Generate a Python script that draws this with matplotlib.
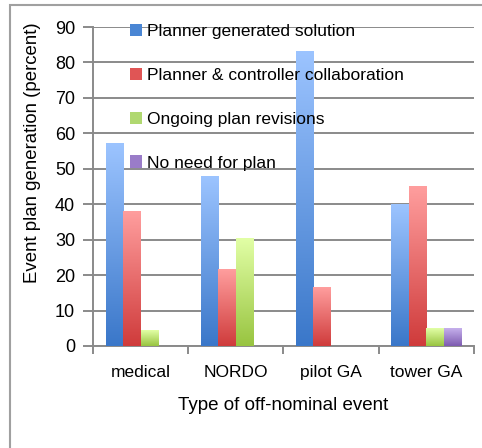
import matplotlib
matplotlib.use("Agg")
import matplotlib.pyplot as plt
import numpy as np
from matplotlib.patches import Patch, Rectangle
from matplotlib.colors import LinearSegmentedColormap

plt.rcParams['font.family'] = ['Liberation Sans', 'DejaVu Sans']

categories = ["medical", "NORDO", "pilot GA", "tower GA"]
series_names = ["Planner generated solution", "Planner & controller collaboration",
                "Ongoing plan revisions", "No need for plan"]
planner = [57, 47.7, 83, 40]
collab = [38, 21.6, 16.5, 45]
ongoing = [4.5, 30.2, 0, 4.8]
noneed = [0, 0, 0, 4.8]
values = [planner, collab, ongoing, noneed]
yticks = [0, 10, 20, 30, 40, 50, 60, 70, 80, 90]

# (bottom colour, top colour)
grads = [("#3a77c9", "#9cc4ff"), ("#cf3b3b", "#ff9e9e"),
         ("#98c440", "#e2ffa6"), ("#7d5bb0", "#c6b0ec")]
legend_cols = ["#4a86d4", "#e05555", "#b0d870", "#9a7cc8"]

fig = plt.figure(figsize=(4.82, 4.48), dpi=100)
ax = fig.add_axes([0.193, 0.2277, 0.79, 0.712])

ax.set_xlim(0, 4)
ax.set_ylim(0, 90)
bw = 0.184
for s, (vals, (c0, c1)) in enumerate(zip(values, grads)):
    cmap = LinearSegmentedColormap.from_list("g%d" % s, [c0, c1])
    grad = np.linspace(0, 1, 256).reshape(-1, 1)
    for i, v in enumerate(vals):
        if v <= 0:
            continue
        x0 = i + 0.5 - 2 * bw + s * bw
        ax.imshow(grad, extent=(x0, x0 + bw, 0, v), origin='lower', cmap=cmap,
                  aspect='auto', zorder=3, interpolation='bilinear')
ax.set_xlim(0, 4)
ax.set_ylim(0, 90)

ax.set_yticks(yticks)
ax.set_yticklabels([str(t) for t in yticks], fontsize=13)
ax.yaxis.grid(True, color="#8a8a8a", linewidth=1.4, zorder=1)
ax.set_axisbelow(True)
ax.set_xticks([0, 1, 2, 3, 4])
ax.set_xticklabels([])
ax.set_xticks([0.5, 1.5, 2.5, 3.5], minor=True)
ax.set_xticklabels(categories, minor=True, fontsize=12.5)
ax.tick_params(axis='x', which='minor', length=0, pad=14)
ax.tick_params(axis='x', which='major', length=6, width=1.4, color="#8a8a8a", direction='out')
ax.tick_params(axis='y', length=7, width=1.4, color="#8a8a8a", direction='out', pad=6)
for sp in ['top', 'right']:
    ax.spines[sp].set_visible(False)
for sp in ['left', 'bottom']:
    ax.spines[sp].set_color("#8a8a8a")
    ax.spines[sp].set_linewidth(1.4)

ax.set_ylabel("Event plan generation (percent)", fontsize=13.4, va='center')
ax.yaxis.set_label_coords(-0.16, 0.605)
ax.set_xlabel("Type of off-nominal event", fontsize=13.5, labelpad=12)

handles = [Patch(facecolor=c, edgecolor='none') for c in legend_cols]
leg = fig.legend(handles, series_names, loc='upper left', bbox_to_anchor=(0.255, 0.962),
                 frameon=False, fontsize=12.5, handlelength=0.7, handleheight=0.7,
                 handletextpad=0.3, labelspacing=1.65, borderaxespad=0)
leg.set_zorder(5)

fig.patches.append(Rectangle((10 / 482, -0.1), 1.2, 1.1 - 5 / 448, transform=fig.transFigure,
                             fill=False, edgecolor="#a0a0a0", linewidth=1.5))

fig.savefig("out.png", dpi=100)
